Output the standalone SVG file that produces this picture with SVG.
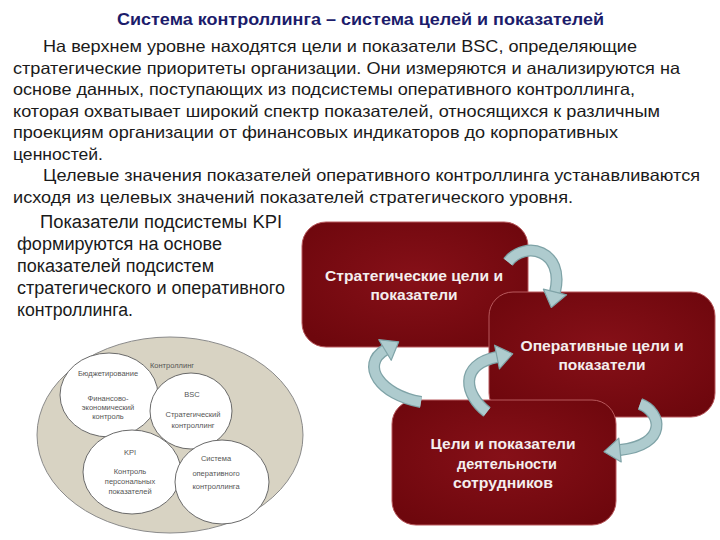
<svg xmlns="http://www.w3.org/2000/svg" width="720" height="540" viewBox="0 0 720 540">
<defs>
<radialGradient id="boxg" cx="50%" cy="45%" r="65%">
<stop offset="0" stop-color="#861018"/>
<stop offset="1" stop-color="#6e070d"/>
</radialGradient>
<style>
.title{font-family:"Liberation Sans",Arial,sans-serif;font-weight:bold;font-size:17px;fill:#1c1c6b}
.body{font-family:"Liberation Sans",Arial,sans-serif;font-size:16.5px;fill:#1a1a1a}
.kpi{font-family:"Liberation Sans",Arial,sans-serif;font-size:18px;fill:#1a1a1a}
.box{fill:url(#boxg);stroke:#b8585c;stroke-width:1}
.bt{font-family:"Liberation Sans",Arial,sans-serif;font-weight:bold;font-size:15px;fill:#f4eeee;text-anchor:middle}
.outer{fill:#d8d3c3;stroke:#8a8a8a;stroke-width:1}
.circ{fill:#ffffff;stroke:#6a6a6a;stroke-width:1}
.ct{font-family:"Liberation Sans",Arial,sans-serif;font-size:7.5px;fill:#555;text-anchor:middle}
.aout{fill:none;stroke:#7fa3a7;stroke-width:12;stroke-linecap:butt}
.ain{fill:none;stroke:#aecbce;stroke-width:9.5;stroke-linecap:butt}
.ah{fill:#aecbce;stroke:#7fa3a7;stroke-width:1.2;stroke-linejoin:round}
</style>
</defs>
<rect width="720" height="540" fill="#ffffff"/>

<g id="title">
<text class="title" x="117" y="25" textLength="487" lengthAdjust="spacingAndGlyphs">Система контроллинга – система целей и показателей</text>
</g>

<g id="paragraph1">
<text class="body" x="43" y="52" textLength="594" lengthAdjust="spacingAndGlyphs">На верхнем уровне находятся цели и показатели BSC, определяющие</text>
<text class="body" x="13" y="73.5" textLength="667" lengthAdjust="spacingAndGlyphs">стратегические приоритеты организации. Они измеряются и анализируются на</text>
<text class="body" x="13" y="95" textLength="622" lengthAdjust="spacingAndGlyphs">основе данных, поступающих из подсистемы оперативного контроллинга,</text>
<text class="body" x="13" y="116.5" textLength="647" lengthAdjust="spacingAndGlyphs">которая охватывает широкий спектр показателей, относящихся к различным</text>
<text class="body" x="13" y="138" textLength="605" lengthAdjust="spacingAndGlyphs">проекциям организации от финансовых индикаторов до корпоративных</text>
<text class="body" x="13" y="159.5" textLength="90" lengthAdjust="spacingAndGlyphs">ценностей.</text>
<text class="body" x="43" y="181" textLength="657" lengthAdjust="spacingAndGlyphs">Целевые значения показателей оперативного контроллинга устанавливаются</text>
<text class="body" x="13" y="202.5" textLength="560" lengthAdjust="spacingAndGlyphs">исходя из целевых значений показателей стратегического уровня.</text>
</g>

<g id="paragraph2">
<text class="kpi" x="40" y="228" textLength="242" lengthAdjust="spacingAndGlyphs">Показатели подсистемы KPI</text>
<text class="kpi" x="17" y="250" textLength="205" lengthAdjust="spacingAndGlyphs">формируются на основе</text>
<text class="kpi" x="17" y="272" textLength="197" lengthAdjust="spacingAndGlyphs">показателей подсистем</text>
<text class="kpi" x="17" y="294" textLength="268" lengthAdjust="spacingAndGlyphs">стратегического и оперативного</text>
<text class="kpi" x="17" y="316" textLength="116" lengthAdjust="spacingAndGlyphs">контроллинга.</text>
</g>

<g id="venn">
<ellipse class="outer" cx="170" cy="435" rx="133" ry="98"/>
<text class="ct" x="172" y="368" font-size="8.5">Контроллинг</text>
<g id="budget">
<ellipse class="circ" cx="109" cy="395" rx="49" ry="42"/>
<text class="ct" x="108" y="376">Бюджетирование</text>
<text class="ct" x="108" y="401">Финансово-</text>
<text class="ct" x="108" y="410">экономический</text>
<text class="ct" x="108" y="419">контроль</text>
</g>
<g id="bsc">
<ellipse class="circ" cx="191" cy="411" rx="41" ry="38"/>
<text class="ct" x="192" y="397">BSC</text>
<text class="ct" x="193" y="417">Стратегический</text>
<text class="ct" x="193" y="428">контроллинг</text>
</g>
<g id="kpi">
<ellipse class="circ" cx="132" cy="472" rx="49" ry="42"/>
<text class="ct" x="130" y="455">KPI</text>
<text class="ct" x="130" y="474">Контроль</text>
<text class="ct" x="130" y="484">персональных</text>
<text class="ct" x="130" y="494">показателей</text>
</g>
<g id="oper">
<ellipse class="circ" cx="222" cy="482" rx="47" ry="42"/>
<text class="ct" x="216" y="461">Система</text>
<text class="ct" x="216" y="476">оперативного</text>
<text class="ct" x="216" y="489">контроллинга</text>
</g>
</g>

<g id="box-strategic">
<rect class="box" x="302" y="222" width="226" height="125" rx="24"/>
<text class="bt" x="414" y="281" textLength="178" lengthAdjust="spacingAndGlyphs">Стратегические цели и</text>
<text class="bt" x="414" y="300" textLength="87" lengthAdjust="spacingAndGlyphs">показатели</text>
</g>

<g id="box-operative">
<rect class="box" x="489" y="292" width="226" height="125" rx="24"/>
<text class="bt" x="602" y="351" textLength="163" lengthAdjust="spacingAndGlyphs">Оперативные цели и</text>
<text class="bt" x="602" y="370" textLength="87" lengthAdjust="spacingAndGlyphs">показатели</text>
</g>

<g id="box-staff">
<rect class="box" x="392" y="400" width="224" height="125" rx="24"/>
<text class="bt" x="503" y="449" textLength="145" lengthAdjust="spacingAndGlyphs">Цели и показатели</text>
<text class="bt" x="507" y="469" textLength="100" lengthAdjust="spacingAndGlyphs">деятельности</text>
<text class="bt" x="503" y="488" textLength="100" lengthAdjust="spacingAndGlyphs">сотрудников</text>
</g>

<g id="connectors">
<path class="aout" d="M 508 262 C 525 240, 565 250, 555 292"/>
<path class="ain" d="M 508 262 C 525 240, 565 250, 555 292"/>
<polygon class="ah" points="566.6,294.8 543.4,289.2 551.3,307.5"/>

<path class="aout" d="M 421 402 C 380 395, 360 365, 385 350"/>
<path class="ain" d="M 421 402 C 380 395, 360 365, 385 350"/>
<polygon class="ah" points="391.2,360.3 378.8,339.7 398.7,341.8"/>

<path class="aout" d="M 487 412 C 465 395, 458 365, 497 357"/>
<path class="ain" d="M 487 412 C 465 395, 458 365, 497 357"/>
<polygon class="ah" points="499.4,368.8 494.6,345.2 512.7,353.8"/>

<path class="aout" d="M 640 404 C 662 412, 668 445, 620 450"/>
<path class="ain" d="M 640 404 C 662 412, 668 445, 620 450"/>
<polygon class="ah" points="621.2,461.9 618.8,438.1 604,451.7"/>
</g>
</svg>
